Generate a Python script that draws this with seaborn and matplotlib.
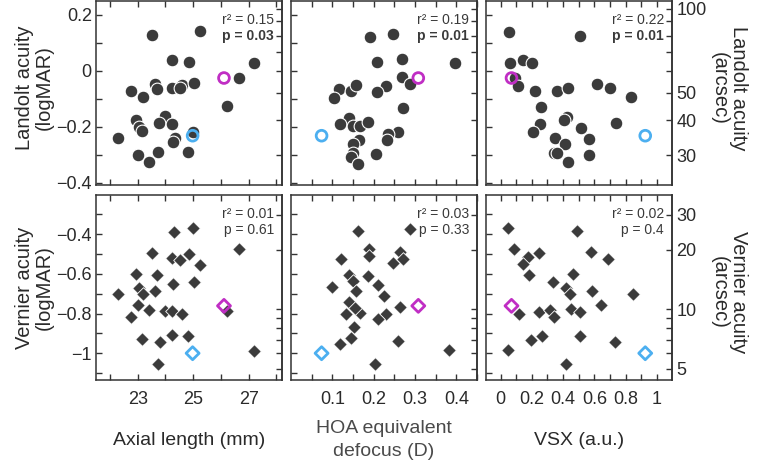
import numpy as np
import pandas as pd
import matplotlib
matplotlib.use("Agg")
import matplotlib.pyplot as plt
import seaborn as sns

# ---------------- data ----------------
# Top row: Landolt acuity (logMAR)
axial_landolt_x = [23.51, 25.23, 24.23, 24.86, 27.18, 26.65, 22.76, 23.63, 23.69, 23.20,
                   24.25, 24.59, 24.54, 25.04, 26.22, 22.94, 23.05, 23.14, 23.99, 23.78,
                   24.23, 22.30, 23.00, 23.41, 23.72, 24.34, 24.27, 24.80, 25.00]
axial_landolt_y = [0.126, 0.141, 0.040, 0.031, 0.029, -0.025, -0.071, -0.049, -0.067, -0.094,
                   -0.060, -0.051, -0.062, -0.044, -0.127, -0.176, -0.200, -0.215, -0.162, -0.186,
                   -0.189, -0.239, -0.300, -0.326, -0.291, -0.239, -0.255, -0.291, -0.218]

hoa_landolt_x = [0.192, 0.246, 0.396, 0.208, 0.268, 0.268, 0.289, 0.231, 0.209, 0.117,
                 0.144, 0.157, 0.104, 0.270, 0.140, 0.119, 0.149, 0.168, 0.187, 0.258,
                 0.234, 0.232, 0.165, 0.150, 0.149, 0.146, 0.162, 0.205]
hoa_landolt_y = [0.119, 0.132, 0.029, 0.031, 0.042, -0.022, -0.046, -0.053, -0.076, -0.066,
                 -0.072, -0.052, -0.096, -0.133, -0.167, -0.191, -0.196, -0.198, -0.184, -0.220,
                 -0.227, -0.247, -0.246, -0.260, -0.295, -0.309, -0.333, -0.299]

vsx_landolt_x = [0.055, 0.505, 0.060, 0.145, 0.201, 0.094, 0.109, 0.222, 0.360, 0.432,
                 0.619, 0.702, 0.833, 0.261, 0.426, 0.405, 0.250, 0.516, 0.741, 0.207,
                 0.347, 0.565, 0.413, 0.340, 0.362, 0.567, 0.432]
vsx_landolt_y = [0.139, 0.124, 0.027, 0.040, 0.029, -0.026, -0.053, -0.071, -0.072, -0.062,
                 -0.049, -0.062, -0.095, -0.128, -0.165, -0.176, -0.191, -0.204, -0.186, -0.220,
                 -0.241, -0.242, -0.260, -0.294, -0.294, -0.302, -0.326]

# Bottom row: Vernier acuity (logMAR)
axial_vernier_x = [25.01, 24.31, 26.65, 23.51, 24.22, 24.51, 24.86, 25.23, 22.94, 23.69,
                   24.27, 25.04, 23.04, 23.20, 22.30, 23.63, 23.00, 23.41, 22.76, 23.99,
                   24.23, 24.59, 26.22, 23.17, 24.25, 24.80, 23.81, 23.73, 27.18]
axial_vernier_y = [-0.370, -0.387, -0.476, -0.492, -0.519, -0.531, -0.501, -0.553, -0.602, -0.605,
                   -0.650, -0.642, -0.669, -0.703, -0.699, -0.686, -0.758, -0.780, -0.815, -0.787,
                   -0.787, -0.803, -0.787, -0.929, -0.909, -0.911, -0.945, -1.052, -0.987]

hoa_vernier_x = [0.162, 0.289, 0.189, 0.188, 0.121, 0.264, 0.247, 0.271, 0.140, 0.149,
                 0.186, 0.157, 0.211, 0.224, 0.098, 0.141, 0.132, 0.166, 0.155, 0.153,
                 0.229, 0.210, 0.263, 0.144, 0.119, 0.259, 0.204, 0.382]
hoa_vernier_y = [-0.383, -0.371, -0.474, -0.508, -0.526, -0.487, -0.543, -0.523, -0.605, -0.635,
                 -0.612, -0.684, -0.654, -0.711, -0.666, -0.741, -0.802, -0.798, -0.773, -0.867,
                 -0.803, -0.827, -0.765, -0.921, -0.953, -0.936, -1.052, -0.985]

vsx_vernier_x = [0.045, 0.486, 0.087, 0.244, 0.580, 0.173, 0.141, 0.687, 0.182, 0.462,
                 0.336, 0.419, 0.447, 0.587, 0.844, 0.640, 0.115, 0.246, 0.315, 0.340,
                 0.450, 0.507, 0.195, 0.267, 0.509, 0.730, 0.049, 0.417]
vsx_vernier_y = [-0.366, -0.383, -0.474, -0.496, -0.491, -0.516, -0.548, -0.526, -0.603, -0.602,
                 -0.640, -0.671, -0.701, -0.687, -0.703, -0.758, -0.803, -0.790, -0.782, -0.817,
                 -0.778, -0.790, -0.933, -0.913, -0.911, -0.945, -0.985, -1.052]

# Two highlighted subjects (open markers): axial, HOA, VSX, Landolt, Vernier
magenta_subject = [26.11, 0.308, 0.070, -0.026, -0.761]
blue_subject = [24.98, 0.074, 0.925, -0.232, -1.000]

r2_landolt = ["0.15", "0.19", "0.22"]
p_landolt = ["0.03", "0.01", "0.01"]
r2_vernier = ["0.01", "0.03", "0.02"]
p_vernier = ["0.61", "0.33", "0.4"]

x_titles = ["Axial length (mm)", "HOA equivalent\ndefocus (D)", "VSX (a.u.)"]

# ---------------- style ----------------
sns.set_theme(style="ticks")
plt.rcParams['font.family'] = ['Liberation Sans', 'DejaVu Sans']
plt.rcParams['axes.unicode_minus'] = True

DOT = '#3b3b3b'
MAG = '#c02ec4'
BLUE = '#4caff0'
SPINE = '#333333'
TXT = '#2a2a2a'

W, H = 758, 465
fig = plt.figure(figsize=(W / 100, H / 100), dpi=100)

col_left = [96, 291, 486]
pw = 186
rows = [(1, 185), (195, 380)]

def to_arcsec(y):
    return 60.0 * np.power(10.0, y)

def to_logmar(a):
    a = np.asarray(a, dtype=float)
    return np.log10(np.clip(a, 1e-9, None) / 60.0)

def fmt(v):
    if abs(v) < 1e-9:
        return '0'
    s = ('%g' % v)
    return s.replace('-', '\u2212')

x_cfg = [
    dict(lim=(21.5, 28.2), ticks=np.arange(22, 29, 1), labels=[23, 25, 27]),
    dict(lim=(0.0, 0.45), ticks=np.round(np.arange(0.05, 0.451, 0.05), 2), labels=[0.1, 0.2, 0.3, 0.4]),
    dict(lim=(-0.093, 1.096), ticks=np.round(np.arange(0, 1.01, 0.1), 1), labels=[0, 0.2, 0.4, 0.6, 0.8, 1]),
]
y_cfg = [
    dict(lim=(-0.408, 0.249), ticks=np.round(np.arange(-0.4, 0.21, 0.1), 1), labels=[-0.4, -0.2, 0, 0.2],
         arc=[30, 40, 50, 60, 70, 80, 90, 100], arclab=[30, 40, 50, 100], marker='o'),
    dict(lim=(-1.135, -0.202), ticks=np.round(np.arange(-1.1, -0.29, 0.1), 1), labels=[-1, -0.8, -0.6, -0.4],
         arc=[5, 6, 7, 8, 9, 10, 20, 30], arclab=[5, 10, 20, 30], marker='D'),
]

data = [
    [(axial_landolt_x, axial_landolt_y), (hoa_landolt_x, hoa_landolt_y), (vsx_landolt_x, vsx_landolt_y)],
    [(axial_vernier_x, axial_vernier_y), (hoa_vernier_x, hoa_vernier_y), (vsx_vernier_x, vsx_vernier_y)],
]
stats = [(r2_landolt, p_landolt, 'bold'), (r2_vernier, p_vernier, 'normal')]

for r, (top, bot) in enumerate(rows):
    yc = y_cfg[r]
    for c in range(3):
        xc = x_cfg[c]
        ax = fig.add_axes([col_left[c] / W, 1 - bot / H, pw / W, (bot - top) / H])
        xs, ys = data[r][c]
        df = pd.DataFrame({'x': xs, 'y': ys})
        if yc['marker'] == 'o':
            sns.scatterplot(data=df, x='x', y='y', ax=ax, marker='o', s=84, color=DOT,
                            edgecolor='white', linewidth=0.8, legend=False, zorder=3)
            hs, hlw = 60, 2.0
        else:
            sns.scatterplot(data=df, x='x', y='y', ax=ax, marker='D', s=48, color=DOT,
                            edgecolor='white', linewidth=0.6, legend=False, zorder=3)
            hs, hlw = 44, 2.0
        yi = 3 + r
        for subj, colr in ((magenta_subject, MAG), (blue_subject, BLUE)):
            hdf = pd.DataFrame({'x': [subj[c]], 'y': [subj[yi]]})
            sns.scatterplot(data=hdf, x='x', y='y', ax=ax, marker=yc['marker'], s=hs,
                            facecolor='none', edgecolor=colr, linewidth=hlw, legend=False, zorder=4)

        ax.set_xlim(*xc['lim'])
        ax.set_ylim(*yc['lim'])
        ax.set_xlabel('')
        ax.set_ylabel('')
        ax.set_xticks(xc['ticks'])
        ax.set_yticks(yc['ticks'])
        if r == 1:
            ax.set_xticklabels([fmt(t) if any(abs(t - l) < 1e-9 for l in xc['labels']) else '' for t in xc['ticks']])
        else:
            ax.set_xticklabels([])
        if c == 0:
            ax.set_yticklabels([fmt(t) if any(abs(t - l) < 1e-9 for l in yc['labels']) else '' for t in yc['ticks']])
        else:
            ax.set_yticklabels([])
        ax.tick_params(direction='in', top=True, bottom=True, left=True, right=False,
                       length=4, width=1, color=SPINE, labelsize=13, labelcolor=TXT, pad=3)
        ax.tick_params(axis='x', pad=8)
        for sp in ax.spines.values():
            sp.set_color(SPINE)
            sp.set_linewidth(1.1)

        sec = ax.secondary_yaxis('right', functions=(to_arcsec, to_logmar))
        sec.set_yticks(yc['arc'])
        if c == 2:
            sec.set_yticklabels([str(a) if a in yc['arclab'] else '' for a in yc['arc']])
        else:
            sec.set_yticklabels([])
        sec.tick_params(direction='in', length=4, width=1, color=SPINE, labelsize=13,
                        labelcolor=TXT, pad=3)
        sec.spines['right'].set_color(SPINE)
        sec.spines['right'].set_linewidth(1.1)

        r2, pv, pw_ = stats[r]
        ax.text(1 - 8 / pw, 1 - 19 / (bot - top), 'r\u00b2 = ' + r2[c], transform=ax.transAxes,
                ha='right', va='center', fontsize=10, color='#3a3a3a')
        ax.text(1 - 8 / pw, 1 - 35 / (bot - top), 'p = ' + pv[c], transform=ax.transAxes,
                ha='right', va='center', fontsize=10, color='#3a3a3a', fontweight=pw_)

# axis titles
title_colors = [TXT, '#4a4a4a', TXT]
for c in range(3):
    cx = (col_left[c] + pw / 2) / W
    fig.text(cx, 1 - 440 / H, x_titles[c], ha='center', va='center', fontsize=14,
             color=title_colors[c], multialignment='center', linespacing=1.45)

fig.text(34 / W, 1 - 88 / H, 'Landolt acuity\n(logMAR)', rotation=90, ha='center', va='center',
         fontsize=14.5, color=TXT, multialignment='center', linespacing=1.05)
fig.text(34 / W, 1 - 288 / H, 'Vernier acuity\n(logMAR)', rotation=90, ha='center', va='center',
         fontsize=14.5, color=TXT, multialignment='center', linespacing=1.05)
fig.text(729 / W, 1 - 88 / H, 'Landolt acuity\n(arcsec)', rotation=270, ha='center', va='center',
         fontsize=14.5, color=TXT, multialignment='center', linespacing=1.05)
fig.text(729 / W, 1 - 292 / H, 'Vernier acuity\n(arcsec)', rotation=270, ha='center', va='center',
         fontsize=14.5, color=TXT, multialignment='center', linespacing=1.05)

fig.savefig('out.png', dpi=100)
